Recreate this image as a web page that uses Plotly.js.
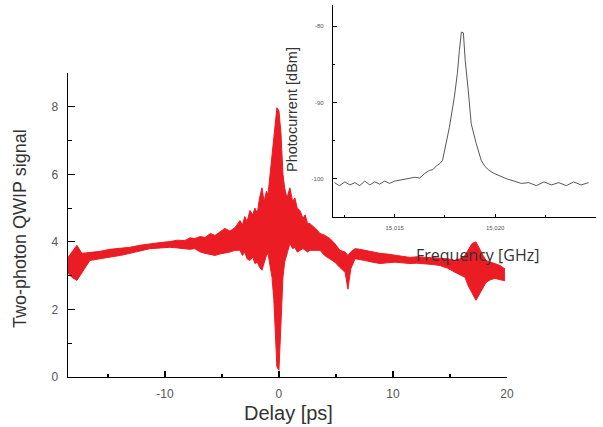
<!DOCTYPE html>
<html>
<head>
<meta charset="utf-8">
<script src="https://cdn.plot.ly/plotly-3.0.1.min.js"></script>
<style>html,body{margin:0;padding:0;background:#fff;}#chart{width:603px;height:427px;}</style>
</head>
<body>
<div id="chart"></div>
<script>
// Main trace: envelope of the two-photon QWIP signal
var delayPs = [-18.5, -18.16, -17.72, -17.28, -16.58, -15.7, -14.82, -13.9, -13.07, -12.2, -11.32, -10.4, -9.56, -8.9, -8.25, -7.8, -7.37, -6.9, -6.49, -6.0, -5.61, -5.2, -4.74, -4.3, -3.86, -3.42, -3.2, -3.0, -2.8, -2.54, -2.3, -2.11, -1.9, -1.7, -1.49, -1.3, -1.1, -0.96, -0.8, -0.61, -0.45, -0.35, -0.18, 0.0, 0.18, 0.35, 0.5, 0.7, 0.96, 1.2, 1.4, 1.6, 1.84, 2.1, 2.3, 2.5, 2.72, 3.2, 3.6, 4.0, 4.47, 4.9, 5.35, 5.8, 6.05, 6.3, 6.67, 7.1, 7.54, 8.2, 8.86, 9.5, 10.18, 10.8, 11.49, 12.1, 12.81, 13.5, 14.12, 14.8, 15.44, 15.9, 16.32, 16.6, 16.93, 17.28, 17.63, 17.9, 18.16, 18.55, 18.95, 19.4, 19.82];
var upperSignal = [3.54, 3.7, 3.9, 3.66, 3.69, 3.72, 3.78, 3.8, 3.84, 3.9, 3.95, 3.98, 4.01, 4.05, 4.04, 4.12, 4.1, 4.16, 4.13, 4.25, 4.19, 4.3, 4.4, 4.32, 4.42, 4.63, 4.5, 4.75, 4.6, 4.93, 4.8, 5.0, 4.85, 5.3, 5.6, 5.2, 5.5, 5.4, 5.9, 6.5, 7.0, 7.5, 7.97, 7.88, 7.2, 6.0, 5.6, 5.3, 5.6, 5.2, 5.3, 5.0, 4.93, 4.7, 4.8, 4.55, 4.54, 4.4, 4.25, 4.2, 4.1, 3.95, 3.75, 3.7, 3.6, 3.7, 3.8, 3.78, 3.75, 3.7, 3.66, 3.64, 3.6, 3.58, 3.54, 3.56, 3.54, 3.52, 3.51, 3.5, 3.45, 3.5, 3.6, 3.75, 3.95, 4.0, 3.75, 3.6, 3.45, 3.4, 3.36, 3.3, 3.2];
var lowerSignal = [3.07, 2.95, 2.86, 3.1, 3.45, 3.5, 3.54, 3.6, 3.66, 3.72, 3.8, 3.82, 3.84, 3.82, 3.8, 3.78, 3.8, 3.7, 3.66, 3.62, 3.6, 3.64, 3.66, 3.7, 3.75, 3.75, 3.6, 3.7, 3.5, 3.45, 3.55, 3.36, 3.4, 3.25, 3.16, 3.4, 3.6, 3.66, 3.3, 2.95, 2.3, 1.6, 0.3, 0.2, 1.6, 2.95, 3.4, 3.66, 3.95, 3.8, 3.84, 3.7, 3.75, 3.8, 3.76, 3.7, 3.75, 3.75, 3.75, 3.6, 3.5, 3.4, 3.24, 3.1, 2.6, 3.2, 3.5, 3.48, 3.45, 3.4, 3.36, 3.38, 3.4, 3.38, 3.36, 3.37, 3.36, 3.33, 3.3, 3.22, 3.1, 3.02, 2.95, 2.7, 2.48, 2.27, 2.48, 2.65, 2.8, 2.88, 2.92, 2.88, 2.85];

// Inset: photocurrent spectrum
var freqGHz = [15.01200, 15.01225, 15.01252, 15.01277, 15.01302, 15.01326, 15.01351, 15.01376, 15.01401, 15.01425, 15.01450, 15.01475, 15.01500, 15.01537, 15.01574, 15.01600, 15.01624, 15.01650, 15.01673, 15.01690, 15.01708, 15.01725, 15.01738, 15.01752, 15.01772, 15.01797, 15.01812, 15.01822, 15.01832, 15.01842, 15.01851, 15.01866, 15.01881, 15.01906, 15.01931, 15.01950, 15.01970, 15.01995, 15.02020, 15.02057, 15.02094, 15.02130, 15.02168, 15.02205, 15.02243, 15.02280, 15.02317, 15.02354, 15.02391, 15.02428, 15.02465];
var powerDbm = [-100.5, -100.9, -100.4, -100.8, -100.5, -100.9, -100.3, -100.8, -100.4, -100.7, -100.3, -100.6, -100.3, -100.1, -100.0, -99.8, -99.9, -99.3, -98.9, -98.8, -98.3, -98.0, -97.6, -95.9, -93.3, -89.3, -86.2, -83.2, -80.8, -80.9, -84.5, -88.4, -92.8, -95.4, -97.6, -98.4, -98.9, -99.3, -99.6, -100.0, -100.3, -100.6, -100.5, -100.9, -100.4, -100.8, -100.5, -100.9, -100.4, -100.8, -100.5];

var delayTicks = [-10, 0, 10, 20];
var delayTickLabels = ['-10', '0', '10', '20'];
var signalTicks = [0, 2, 4, 6, 8];
var signalTickLabels = ['0', '2', '4', '6', '8'];
var dbmTicks = [-80, -90, -100];
var dbmTickLabels = ['-80', '-90', '-100'];
var freqTicks = [15.015, 15.020, 15.025];
var freqTickLabels = ['15,015', '15,020', '15,025'];

var red = '#ec1c24';
var traces = [
  {x: delayPs, y: lowerSignal, type: 'scatter', mode: 'lines', line: {color: red, width: 1}, xaxis: 'x', yaxis: 'y', hoverinfo: 'skip', showlegend: false},
  {x: delayPs, y: upperSignal, type: 'scatter', mode: 'lines', fill: 'tonexty', fillcolor: red, line: {color: red, width: 1}, xaxis: 'x', yaxis: 'y', hoverinfo: 'skip', showlegend: false},
  {x: freqGHz, y: powerDbm, type: 'scatter', mode: 'lines', line: {color: '#444', width: 0.9}, xaxis: 'x2', yaxis: 'y2', hoverinfo: 'skip', showlegend: false}
];

var L = 68, T = 5, W = 528, H = 372;
function px(x) { return (x - L) / W; }
function py(y) { return (T + H - y) / H; }

var tickFont = {family: 'Liberation Sans, Arial, sans-serif', size: 12, color: '#555'};
var smallFont = {family: 'Liberation Sans, Arial, sans-serif', size: 6, color: '#555'};

var layout = {
  width: 603, height: 427,
  margin: {l: L, r: 603 - L - W, t: T, b: 427 - T - H, pad: 0},
  paper_bgcolor: '#fff', plot_bgcolor: 'rgba(0,0,0,0)',
  showlegend: false,
  xaxis: {
    domain: [0, px(507)], range: [-18.5, 20], anchor: 'y',
    showline: true, linecolor: '#000', linewidth: 1.3, mirror: false,
    showgrid: false, zeroline: false,
    tickmode: 'array', tickvals: delayTicks, ticktext: delayTickLabels,
    ticks: 'inside', ticklen: 6, tickwidth: 1.2, tickcolor: '#000',
    minor: {tickmode: 'array', tickvals: [-15, -5, 5, 15], ticks: 'inside', ticklen: 3.5, tickwidth: 1.2, tickcolor: '#000'},
    tickfont: tickFont, ticklabelstandoff: 5
  },
  yaxis: {
    domain: [0, py(73)], range: [0, 9], anchor: 'x',
    showline: true, linecolor: '#000', linewidth: 1.3, mirror: false,
    showgrid: false, zeroline: false,
    tickmode: 'array', tickvals: signalTicks, ticktext: signalTickLabels,
    ticks: 'inside', ticklen: 7, tickwidth: 1.2, tickcolor: '#000',
    minor: {tickmode: 'array', tickvals: [1, 3, 5, 7, 9], ticks: 'inside', ticklen: 4, tickwidth: 1.2, tickcolor: '#000'},
    tickfont: tickFont, ticklabelstandoff: 6
  },
  xaxis2: {
    domain: [px(333), 1], range: [15.01193, 15.02502], anchor: 'y2',
    showline: true, linecolor: '#000', linewidth: 1.2, mirror: false,
    showgrid: false, zeroline: false,
    tickmode: 'array', tickvals: freqTicks, ticktext: freqTickLabels,
    ticks: 'inside', ticklen: 3.5, tickwidth: 1, tickcolor: '#000',
    minor: {tickmode: 'array', tickvals: [15.0125, 15.0175, 15.0225], ticks: 'inside', ticklen: 2, tickwidth: 1, tickcolor: '#000'},
    tickfont: smallFont, ticklabelstandoff: 5
  },
  yaxis2: {
    domain: [py(217), 1], range: [-105, -77.25], anchor: 'x2',
    showline: true, linecolor: '#000', linewidth: 1.2, mirror: false,
    showgrid: false, zeroline: false,
    tickmode: 'array', tickvals: dbmTicks, ticktext: dbmTickLabels,
    ticks: 'inside', ticklen: 4, tickwidth: 1, tickcolor: '#000',
    minor: {tickmode: 'array', tickvals: [-85, -95], ticks: 'inside', ticklen: 2, tickwidth: 1, tickcolor: '#000'},
    tickfont: smallFont, ticklabelstandoff: 7
  },
  annotations: [
    {text: 'Two-photon QWIP signal', xref: 'paper', yref: 'paper', x: px(20), y: py(229), xanchor: 'center', yanchor: 'middle', textangle: -90, showarrow: false, font: {family: 'Liberation Sans, Arial, sans-serif', size: 18, color: '#333'}},
    {text: 'Delay [ps]', xref: 'paper', yref: 'paper', x: px(288), y: py(413), xanchor: 'center', yanchor: 'middle', showarrow: false, font: {family: 'Liberation Sans, Arial, sans-serif', size: 20, color: '#333'}},
    {text: 'Photocurrent [dBm]', xref: 'paper', yref: 'paper', x: px(292), y: py(110), xanchor: 'center', yanchor: 'middle', textangle: -90, showarrow: false, font: {family: 'Liberation Sans, Arial, sans-serif', size: 14.5, color: '#333'}},
    {text: 'Frequency [GHz]', xref: 'paper', yref: 'paper', x: px(477), y: py(255), xanchor: 'center', yanchor: 'middle', showarrow: false, font: {family: 'Open Sans, Liberation Sans, sans-serif', size: 16, color: '#333'}}
  ]
};

Plotly.newPlot('chart', traces, layout, {staticPlot: true, displayModeBar: false});
</script>
</body>
</html>
